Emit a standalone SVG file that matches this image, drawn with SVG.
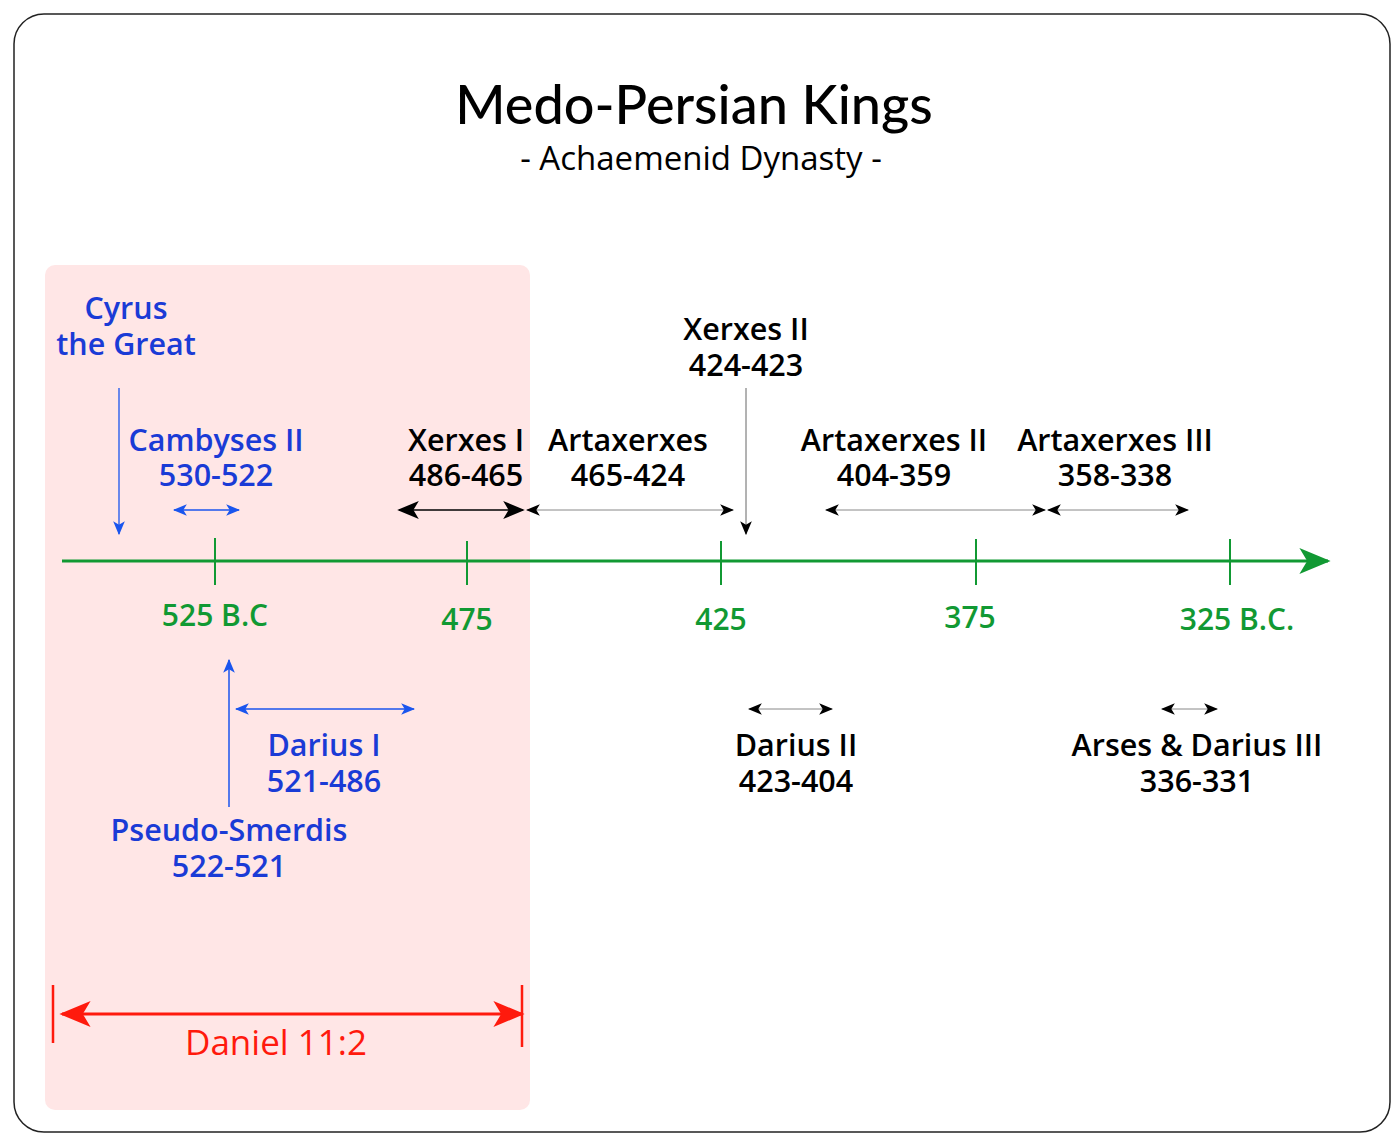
<svg xmlns="http://www.w3.org/2000/svg" width="1400" height="1141" viewBox="0 0 1400 1141">
<style>
.lb{font-family:"Open Sans",sans-serif;font-weight:600;font-size:30.5px;text-anchor:middle}
.bl{fill:#1a3bd6}.bk{fill:#000}.gr{fill:#119933;font-size:30px}
</style>
<defs>
<marker id="mk" viewBox="0 0 12 10" refX="11" refY="5" markerWidth="14" markerHeight="12" markerUnits="userSpaceOnUse" orient="auto-start-reverse"><path d="M0,0 L12,5 L0,10 L3,5 z" fill="#000"/></marker>
<marker id="mkb" viewBox="0 0 12 10" refX="11" refY="5" markerWidth="14" markerHeight="12" markerUnits="userSpaceOnUse" orient="auto-start-reverse"><path d="M0,0 L12,5 L0,10 L3,5 z" fill="#1a55ee"/></marker>
<marker id="mkbig" viewBox="0 0 12 10" refX="11" refY="5" markerWidth="26" markerHeight="18" markerUnits="userSpaceOnUse" orient="auto-start-reverse"><path d="M0,0 L12,5 L0,10 L3,5 z" fill="#000"/></marker>
<marker id="mkr" viewBox="0 0 12 10" refX="11" refY="5" markerWidth="38" markerHeight="26" markerUnits="userSpaceOnUse" orient="auto-start-reverse"><path d="M0,0 L12,5 L0,10 L3,5 z" fill="#ff1a0d"/></marker>
<marker id="mkg" viewBox="0 0 12 10" refX="11" refY="5" markerWidth="42" markerHeight="26" markerUnits="userSpaceOnUse" orient="auto"><path d="M0,0 L12,5 L0,10 L3,5 z" fill="#119933"/></marker>
</defs>
<rect x="0" y="0" width="1400" height="1141" fill="#fff"/>
<rect x="14" y="14" width="1376" height="1118" rx="30" fill="#fff" stroke="#222" stroke-width="1.5"/>
<rect x="45" y="265" width="485" height="845" rx="10" fill="#ffe6e6"/>
<g id="title">
<text x="694" y="124" font-family="Lato,sans-serif" font-size="54" font-weight="500" text-anchor="middle">Medo-Persian Kings</text>
<text x="701" y="170" font-family="'Open Sans',sans-serif" font-size="33" text-anchor="middle">- Achaemenid Dynasty -</text>
</g>
<g id="connectors" fill="none">
<line x1="62" y1="561" x2="1328" y2="561" stroke="#119933" stroke-width="3" marker-end="url(#mkg)"/>
<g stroke="#119933" stroke-width="2">
<line x1="215" y1="538" x2="215" y2="585"/><line x1="467" y1="541" x2="467" y2="585"/><line x1="721" y1="541" x2="721" y2="585"/><line x1="976" y1="539" x2="976" y2="585"/><line x1="1230" y1="539" x2="1230" y2="585"/>
</g>
<line x1="119" y1="388" x2="119" y2="534" stroke="#1a55ee" stroke-width="1.3" marker-end="url(#mkb)"/>
<line x1="174" y1="510" x2="239" y2="510" stroke="#1a55ee" stroke-width="1.5" marker-start="url(#mkb)" marker-end="url(#mkb)"/>
<line x1="229" y1="807" x2="229" y2="660" stroke="#1a55ee" stroke-width="1.5" marker-end="url(#mkb)"/>
<line x1="236" y1="709" x2="414" y2="709" stroke="#1a55ee" stroke-width="1.5" marker-start="url(#mkb)" marker-end="url(#mkb)"/>
<line x1="399" y1="510" x2="523" y2="510" stroke="#000" stroke-width="1.5" marker-start="url(#mkbig)" marker-end="url(#mkbig)"/>
<line x1="527" y1="510" x2="733" y2="510" stroke="#888" stroke-width="1" marker-start="url(#mk)" marker-end="url(#mk)"/>
<line x1="746" y1="388" x2="746" y2="534" stroke="#666" stroke-width="1" marker-end="url(#mk)"/>
<line x1="826" y1="510" x2="1045" y2="510" stroke="#888" stroke-width="1" marker-start="url(#mk)" marker-end="url(#mk)"/>
<line x1="1048" y1="510" x2="1188" y2="510" stroke="#888" stroke-width="1" marker-start="url(#mk)" marker-end="url(#mk)"/>
<line x1="749" y1="709" x2="832" y2="709" stroke="#888" stroke-width="1" marker-start="url(#mk)" marker-end="url(#mk)"/>
<line x1="1162" y1="709" x2="1217" y2="709" stroke="#888" stroke-width="1" marker-start="url(#mk)" marker-end="url(#mk)"/>
<line x1="62" y1="1014" x2="522" y2="1014" stroke="#ff1a0d" stroke-width="3" marker-start="url(#mkr)" marker-end="url(#mkr)"/>
<line x1="53" y1="985" x2="53" y2="1043" stroke="#ff1a0d" stroke-width="2.5"/>
<line x1="522" y1="985" x2="522" y2="1047" stroke="#ff1a0d" stroke-width="2.5"/>
</g>
<g id="axis-labels">
<text class="lb gr" x="215" y="626">525 B.C</text>
<text class="lb gr" x="467" y="630">475</text>
<text class="lb gr" x="721" y="630">425</text>
<text class="lb gr" x="970" y="628">375</text>
<text class="lb gr" x="1237" y="630">325 B.C.</text>
</g>
<g id="cyrus"><text class="lb bl" x="126" y="319">Cyrus</text><text class="lb bl" x="126" y="355">the Great</text></g>
<g id="cambyses"><text class="lb bl" x="216" y="451">Cambyses II</text><text class="lb bl" x="216" y="486">530-522</text></g>
<g id="darius1"><text class="lb bl" x="324" y="756">Darius I</text><text class="lb bl" x="324" y="792">521-486</text></g>
<g id="pseudo"><text class="lb bl" x="229" y="841">Pseudo-Smerdis</text><text class="lb bl" x="229" y="877">522-521</text></g>
<g id="xerxes1"><text class="lb bk" x="466" y="451">Xerxes I</text><text class="lb bk" x="466" y="486">486-465</text></g>
<g id="artaxerxes"><text class="lb bk" x="628" y="451">Artaxerxes</text><text class="lb bk" x="628" y="486">465-424</text></g>
<g id="xerxes2"><text class="lb bk" x="746" y="340">Xerxes II</text><text class="lb bk" x="746" y="376">424-423</text></g>
<g id="artaxerxes2"><text class="lb bk" x="894" y="451">Artaxerxes II</text><text class="lb bk" x="894" y="486">404-359</text></g>
<g id="artaxerxes3"><text class="lb bk" x="1115" y="451">Artaxerxes III</text><text class="lb bk" x="1115" y="486">358-338</text></g>
<g id="darius2"><text class="lb bk" x="796" y="756">Darius II</text><text class="lb bk" x="796" y="792">423-404</text></g>
<g id="arses"><text class="lb bk" x="1197" y="756">Arses &amp; Darius III</text><text class="lb bk" x="1197" y="792">336-331</text></g>
<g id="daniel"><text x="276" y="1055" font-family="'Open Sans',sans-serif" text-anchor="middle" fill="#ff1a0d" font-weight="500" font-size="35">Daniel 11:2</text></g>
</svg>
